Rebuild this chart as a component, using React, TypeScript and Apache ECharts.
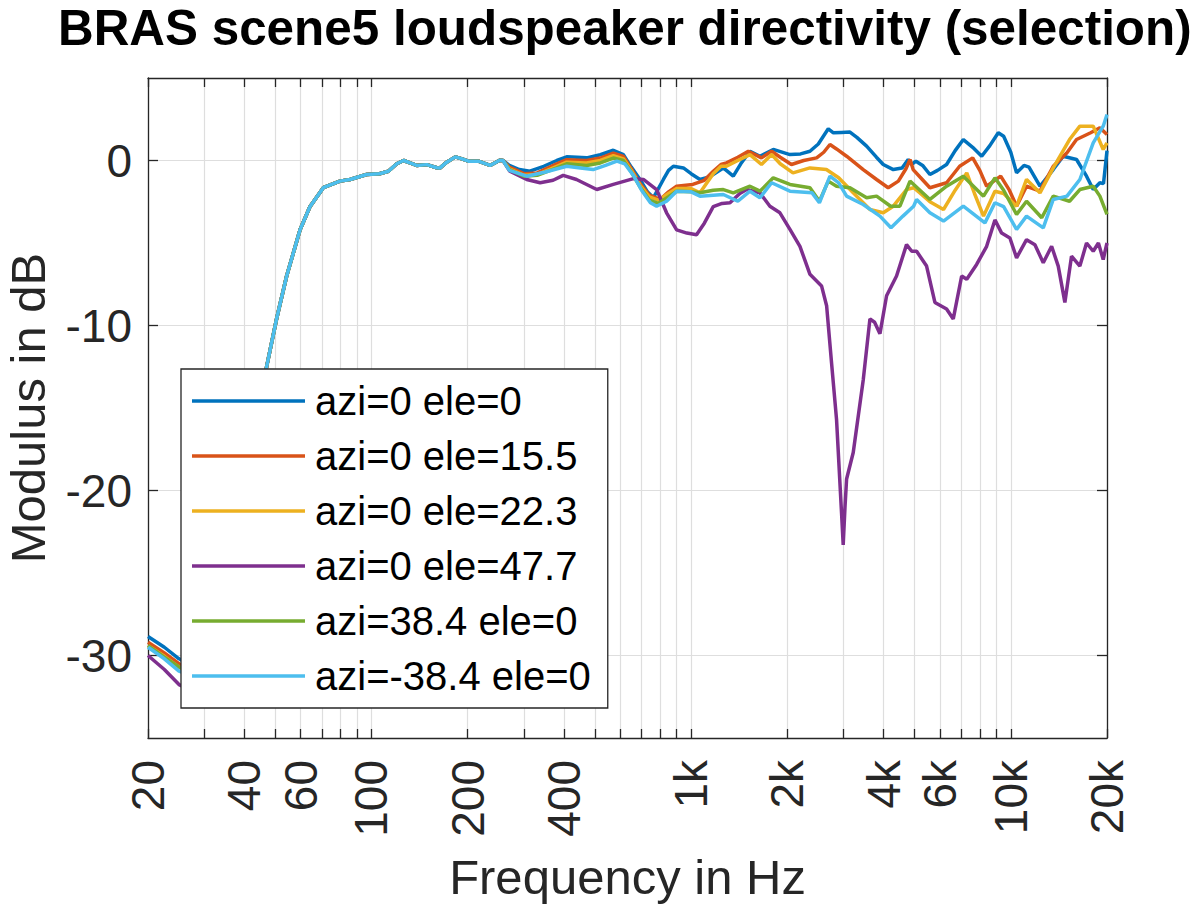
import React, { useEffect, useRef } from "react";
import * as echarts from "echarts";

const FONT = "'Liberation Sans', Arial, Helvetica, sans-serif";

// Axis ticks
const xTickFreqs = [20, 30, 40, 50, 60, 70, 80, 90, 100, 200, 300, 400, 500, 600, 700, 800, 900, 1000, 2000, 3000, 4000, 5000, 6000, 7000, 8000, 9000, 10000, 20000];
const xLabelFreqs = [20, 40, 60, 100, 200, 400, 1000, 2000, 4000, 6000, 10000, 20000];
const yTicks = [-30, -20, -10, 0];

const seriesNames = ["azi=0 ele=0", "azi=0 ele=15.5", "azi=0 ele=22.3", "azi=0 ele=47.7", "azi=38.4 ele=0", "azi=-38.4 ele=0"];
const seriesColors = ["#0072BD", "#D95319", "#EDB120", "#7E2F8E", "#77AC30", "#4DBEEE"];

// Low-frequency start (differs slightly per curve)
const lowFreq = [20, 22.5, 25, 28, 32, 36, 40, 44];
const lowBlue = [-28.85, -29.5, -30.2, -30.7, -29.5, -25.5, -20.0, -15.5];
const lowOrange = [-29.2, -29.85, -30.5, -30.95, -29.8, -25.8, -20.2, -15.6];
const lowYellow = [-29.4, -30.05, -30.7, -31.1, -30.0, -25.9, -20.3, -15.6];
const lowPurple = [-30.0, -30.85, -31.76, -32.2, -31.0, -26.6, -20.6, -15.8];
const lowGreen = [-29.4, -30.1, -30.7, -31.15, -30.0, -26.0, -20.3, -15.6];
const lowLightBlue = [-29.5, -30.2, -30.95, -31.3, -30.2, -26.1, -20.4, -15.7];

// Shared segment where all curves coincide
const sharedFreq = [47, 50.5, 54.3, 59.8, 64.2, 70.7, 79.7, 85.7, 96.6, 106, 113, 120, 126, 132, 138.5, 149, 160, 164, 172, 183, 192, 201, 216, 235, 252, 258];
const sharedDb = [-12.5, -9.6, -7.0, -4.2, -2.8, -1.65, -1.25, -1.15, -0.85, -0.8, -0.65, -0.2, 0.0, -0.15, -0.3, -0.25, -0.44, -0.45, -0.1, 0.22, 0.1, -0.04, -0.04, -0.3, 0.02, 0.0];

// Per-curve high-frequency part
const blueFreq = [270, 290, 313, 346, 380, 408, 440, 471, 520, 571, 614, 650, 692, 730, 762, 790, 819, 850, 880, 946, 1000, 1066, 1140, 1261, 1355, 1430, 1528, 1642, 1807, 2038, 2200, 2354, 2500, 2686, 2787, 2950, 3140, 3300, 3540, 3800, 3991, 4290, 4570, 4776, 4900, 5050, 5300, 5585, 5900, 6298, 6700, 7105, 7600, 8110, 8600, 9138, 9500, 10000, 10427, 11000, 11400, 12340, 13580, 14590, 16060, 17260, 18110, 19000, 19500, 20000];
const blueDb = [-0.3, -0.55, -0.65, -0.35, 0.0, 0.22, 0.2, 0.16, 0.35, 0.62, 0.36, -0.4, -1.15, -1.9, -2.26, -1.7, -1.15, -0.6, -0.35, -0.45, -0.8, -1.15, -1.0, -0.45, -0.95, -0.2, 0.56, 0.26, 0.67, 0.36, 0.4, 0.56, 1.0, 1.92, 1.68, 1.7, 1.72, 1.4, 0.87, 0.2, -0.24, -0.55, -0.45, 0.06, -0.24, -0.04, -0.3, -0.85, -0.6, -0.24, 0.6, 1.27, 0.8, 0.26, 0.9, 1.68, 1.47, 0.5, -0.75, -0.3, -0.4, -1.56, -0.55, 0.26, 0.06, -0.95, -1.76, -1.35, -1.4, 0.6];

const orangeFreq = [270, 300, 330, 380, 408, 471, 520, 571, 614, 650, 692, 740, 800, 850, 901, 1012, 1100, 1173, 1240, 1290, 1400, 1510, 1660, 1786, 1900, 2060, 2250, 2470, 2600, 2719, 2850, 3065, 3455, 3804, 4135, 4450, 4700, 4840, 4950, 5200, 5585, 6298, 6918, 7600, 8000, 8405, 9300, 9900, 10427, 11203, 12340, 13580, 14990, 16060, 17780, 19000, 20000];
const orangeDb = [-0.4, -0.8, -0.75, -0.2, 0.05, 0.0, 0.15, 0.45, 0.25, -0.5, -1.4, -2.1, -2.36, -1.9, -1.56, -1.45, -1.2, -0.65, -0.24, -0.14, 0.2, 0.56, 0.16, 0.56, 0.2, -0.24, 0.0, 0.16, 0.5, 0.97, 0.7, 0.26, -0.55, -1.15, -1.65, -1.25, -0.5, 0.06, -0.55, -1.0, -1.65, -1.35, -0.35, 0.16, -0.6, -1.56, -0.95, -1.8, -2.77, -1.56, -1.86, -0.35, 0.47, 1.27, 1.68, 1.98, 1.57];

const yellowFreq = [270, 300, 330, 380, 408, 471, 520, 571, 614, 650, 692, 740, 790, 850, 901, 1000, 1066, 1173, 1240, 1290, 1400, 1528, 1660, 1786, 1900, 2083, 2354, 2650, 2895, 3215, 3626, 3991, 4290, 4720, 4966, 5197, 5585, 6160, 6700, 7283, 7700, 8218, 8922, 9500, 10427, 11203, 12340, 13580, 15270, 16450, 18110, 19460, 20000];
const yellowDb = [-0.5, -0.9, -0.85, -0.35, -0.1, -0.15, 0.0, 0.3, 0.1, -0.6, -1.5, -2.2, -2.4, -2.0, -1.7, -1.7, -1.96, -0.8, -0.35, -0.35, 0.0, 0.36, -0.24, 0.36, -0.2, -0.75, -0.45, -0.55, -1.05, -1.96, -2.97, -3.17, -2.77, -1.76, -1.65, -1.96, -2.5, -2.97, -1.8, -0.75, -2.0, -3.37, -1.86, -2.0, -2.77, -1.15, -1.96, -0.45, 1.27, 2.08, 2.08, 0.67, 1.07];

const purpleFreq = [271, 306, 337, 370, 398, 438, 507, 571, 660, 709, 780, 838, 901, 970, 1040, 1100, 1173, 1250, 1323, 1420, 1492, 1642, 1764, 1896, 2038, 2190, 2354, 2559, 2654, 2751, 2851, 2955, 2991, 3030, 3065, 3215, 3455, 3626, 3750, 3897, 4088, 4392, 4720, 4900, 5075, 5453, 5790, 6298, 6609, 7021, 7283, 7820, 8405, 8922, 9362, 9937, 10427, 11203, 11900, 12637, 13420, 14077, 14765, 15488, 16450, 17260, 18110, 18800, 19460, 20000];
const purpleDb = [-0.65, -1.15, -1.35, -1.2, -0.9, -1.15, -1.76, -1.45, -1.1, -1.15, -1.76, -3.17, -4.2, -4.4, -4.5, -3.8, -2.8, -2.6, -2.56, -2.0, -1.76, -1.96, -2.77, -3.17, -4.18, -5.2, -6.9, -7.6, -8.8, -12.3, -15.7, -21.35, -23.3, -21.0, -19.3, -17.7, -13.3, -9.6, -9.8, -10.5, -8.2, -7.0, -5.1, -5.5, -5.5, -6.4, -8.6, -9.0, -9.6, -7.0, -7.2, -6.3, -5.2, -3.6, -4.4, -4.7, -5.9, -4.8, -5.1, -6.2, -5.2, -6.4, -8.6, -5.8, -6.4, -5.0, -5.5, -5.0, -6.0, -5.0];

const greenFreq = [270, 300, 330, 380, 408, 471, 520, 571, 614, 650, 692, 740, 790, 850, 901, 1000, 1066, 1173, 1261, 1355, 1528, 1642, 1807, 2038, 2354, 2520, 2686, 2851, 3140, 3540, 3804, 4210, 4500, 4840, 5000, 5585, 6298, 7105, 8218, 8922, 9500, 10427, 11203, 12500, 13580, 15270, 16450, 18110, 19000, 20000];
const greenDb = [-0.55, -0.95, -0.9, -0.45, -0.2, -0.3, -0.15, 0.15, 0.0, -0.7, -1.6, -2.4, -2.6, -2.2, -1.86, -1.9, -1.96, -1.8, -1.76, -1.96, -1.56, -1.86, -1.05, -1.45, -1.65, -2.47, -1.25, -1.56, -1.65, -2.26, -2.16, -2.77, -2.77, -1.25, -1.5, -2.36, -1.56, -0.95, -2.16, -1.05, -1.8, -3.27, -2.47, -3.47, -2.16, -2.47, -1.76, -1.56, -2.16, -3.27];

const lightBlueFreq = [270, 306, 350, 408, 450, 494, 540, 586, 620, 660, 700, 746, 780, 838, 901, 1000, 1066, 1261, 1400, 1528, 1642, 1786, 2038, 2390, 2520, 2719, 2895, 3065, 3455, 3897, 4220, 4600, 4966, 5075, 5585, 6160, 7105, 8300, 8922, 9500, 10427, 11203, 12637, 13580, 14990, 16450, 18110, 19460, 20000];
const lightBlueDb = [-0.6, -0.95, -0.7, -0.35, -0.45, -0.55, -0.3, -0.04, -0.2, -0.9, -1.8, -2.56, -2.77, -2.47, -1.86, -1.9, -2.16, -2.06, -2.47, -1.86, -2.26, -1.35, -1.86, -1.96, -2.56, -0.95, -1.35, -2.16, -2.67, -3.37, -4.08, -3.37, -2.77, -2.36, -3.17, -3.67, -2.77, -3.78, -2.56, -2.8, -4.18, -3.37, -4.08, -2.36, -2.16, -1.15, 1.07, 2.08, 2.79];

const lowSets = [lowBlue, lowOrange, lowYellow, lowPurple, lowGreen, lowLightBlue];
const highFreqSets = [blueFreq, orangeFreq, yellowFreq, purpleFreq, greenFreq, lightBlueFreq];
const highDbSets = [blueDb, orangeDb, yellowDb, purpleDb, greenDb, lightBlueDb];

function buildData(i: number): number[][] {
  const pts: number[][] = [];
  lowFreq.forEach((f, k) => pts.push([Math.log10(f), lowSets[i][k]]));
  sharedFreq.forEach((f, k) => pts.push([Math.log10(f), sharedDb[k]]));
  highFreqSets[i].forEach((f, k) => pts.push([Math.log10(f), highDbSets[i][k]]));
  return pts;
}

const fmtFreq = (v: number) => {
  const f = Math.round(Math.pow(10, v));
  return f >= 1000 ? f / 1000 + "k" : String(f);
};

const AXIS_COLOR = "#262626";
const GRID_COLOR = "#dedede";

export default function App() {
  const ref = useRef<HTMLDivElement>(null);
  useEffect(() => {
    if (!ref.current) return;
    const chart = echarts.init(ref.current, null, { renderer: "svg" });
    const xMin = Math.log10(20);
    const xMax = Math.log10(20000);
    const tickVals = xTickFreqs.map((f) => Math.log10(f));
    const labelVals = xLabelFreqs.map((f) => Math.log10(f));
    const option: any = {
      animation: false,
      backgroundColor: "#ffffff",
      title: {
        text: "BRAS scene5 loudspeaker directivity (selection)",
        left: 58,
        top: 3,
        padding: 0,
        textStyle: { fontSize: 49.4, fontWeight: "bold", color: "#000", fontFamily: FONT },
      },
      grid: { left: 148, right: 93, top: 78, bottom: 167, containLabel: false, outerBoundsMode: "none" },
      legend: {
        orient: "vertical",
        left: 181,
        top: 369,
        itemWidth: 113,
        itemHeight: 3.5,
        icon: "rect",
        itemGap: 11,
        padding: [10, 17, 10, 11],
        backgroundColor: "#ffffff",
        borderColor: AXIS_COLOR,
        borderWidth: 1.3,
        borderRadius: 0,
        selectedMode: false,
        textStyle: { fontSize: 40, lineHeight: 44, fontFamily: FONT, color: "#000", padding: [0, 0, 0, 5] },
        data: seriesNames,
      },
      xAxis: [
        {
          type: "value",
          position: "bottom",
          min: xMin,
          max: xMax,
          name: "Frequency in Hz",
          nameLocation: "middle",
          nameGap: 114,
          nameTextStyle: { fontSize: 49, fontFamily: FONT, color: AXIS_COLOR },
          axisLine: { show: true, onZero: false, lineStyle: { color: AXIS_COLOR, width: 1.3 } },
          axisTick: { show: true, inside: true, length: 9, customValues: tickVals, lineStyle: { color: AXIS_COLOR, width: 1.3 } },
          axisLabel: {
            customValues: labelVals,
            rotate: 90,
            margin: 22,
            fontSize: 46,
            fontFamily: FONT,
            color: AXIS_COLOR,
            formatter: fmtFreq,
            showMinLabel: true,
            showMaxLabel: true,
            hideOverlap: false,
          },
          splitLine: { show: true, lineStyle: { color: GRID_COLOR, width: 1.2 } },
        },
        {
          type: "value",
          position: "top",
          min: xMin,
          max: xMax,
          axisLine: { show: true, onZero: false, lineStyle: { color: AXIS_COLOR, width: 1.3 } },
          axisTick: { show: true, inside: true, length: 9, customValues: tickVals, lineStyle: { color: AXIS_COLOR, width: 1.3 } },
          axisLabel: { show: false },
          splitLine: { show: false },
        },
      ],
      yAxis: [
        {
          type: "value",
          position: "left",
          min: -35,
          max: 5,
          name: "Modulus in dB",
          nameLocation: "middle",
          nameGap: 96,
          nameTextStyle: { fontSize: 49, fontFamily: FONT, color: AXIS_COLOR },
          axisLine: { show: true, onZero: false, lineStyle: { color: AXIS_COLOR, width: 1.3 } },
          axisTick: { show: true, inside: true, length: 10, customValues: yTicks, lineStyle: { color: AXIS_COLOR, width: 1.3 } },
          axisLabel: { customValues: yTicks, margin: 16, fontSize: 46, fontFamily: FONT, color: AXIS_COLOR },
          splitLine: { show: true, lineStyle: { color: GRID_COLOR, width: 1.2 } },
        },
        {
          type: "value",
          position: "right",
          min: -35,
          max: 5,
          axisLine: { show: true, onZero: false, lineStyle: { color: AXIS_COLOR, width: 1.3 } },
          axisTick: { show: true, inside: true, length: 10, customValues: yTicks, lineStyle: { color: AXIS_COLOR, width: 1.3 } },
          axisLabel: { show: false },
          splitLine: { show: false },
        },
      ],
      series: seriesNames.map((name, i) => ({
        name,
        type: "line",
        xAxisIndex: 0,
        yAxisIndex: 0,
        data: buildData(i),
        showSymbol: false,
        symbol: "none",
        smooth: false,
        clip: true,
        color: seriesColors[i],
        lineStyle: { color: seriesColors[i], width: 3.5 },
        emphasis: { disabled: true },
      })),
    };
    chart.setOption(option);
    return () => chart.dispose();
  }, []);
  return <div ref={ref} style={{ position: "absolute", left: 0, top: 0, width: 1200, height: 905 }} />;
}
